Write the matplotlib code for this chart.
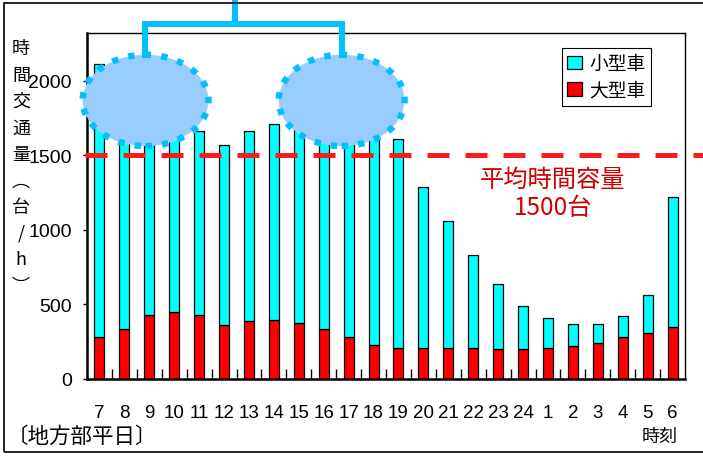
import numpy as np
import matplotlib
matplotlib.use("Agg")
import matplotlib.pyplot as plt
from matplotlib import font_manager
from matplotlib.patches import Ellipse, Rectangle

names = {f.name for f in font_manager.fontManager.ttflist}
num_font = 'Liberation Sans Narrow' if 'Liberation Sans Narrow' in names else 'Liberation Sans'
jp_font = 'Noto Sans CJK JP'
plt.rcParams['font.family'] = [num_font, jp_font, 'DejaVu Sans']

# data
hours = ['7', '8', '9', '10', '11', '12', '13', '14', '15', '16', '17', '18',
         '19', '20', '21', '22', '23', '24', '1', '2', '3', '4', '5', '6']
large_cars = [280, 337, 430, 447, 430, 360, 387, 398, 378, 337, 280, 230,
              210, 210, 210, 210, 199, 199, 210, 221, 242, 280, 307, 347]
small_cars = [1835, 1513, 1330, 1243, 1232, 1206, 1275, 1313, 1322, 1383, 1480, 1470,
              1401, 1079, 848, 622, 437, 289, 197, 146, 125, 141, 259, 870]
capacity = 1500

cyan = '#00ffff'
red = '#ff0000'
sky = '#00c0ff'

fig = plt.figure(figsize=(7.03, 4.6), dpi=100)
ax = fig.add_axes([87/703, 1-380/460, 598/703, 346/460])

ind = np.arange(len(hours))
w = 0.4
ax.bar(ind, large_cars, w, color=red, edgecolor='black', linewidth=0.9, label='大型車', zorder=2)
ax.bar(ind, small_cars, w, bottom=large_cars, color=cyan, edgecolor='black', linewidth=0.9,
       label='小型車', zorder=2)

ax.set_xlim(-0.5, len(hours)-0.5)
ax.set_ylim(0, 2320)
ax.set_yticks([0, 500, 1000, 1500, 2000])
ax.tick_params(axis='y', direction='out', length=3, width=1, labelsize=14, pad=8)
ax.set_xticks(ind)
ax.set_xticklabels(hours)
ax.tick_params(axis='x', which='major', length=0, labelsize=13.5, pad=18)
ax.set_xticks(np.arange(0.5, len(hours)-0.5, 1), minor=True)
ax.tick_params(axis='x', which='minor', direction='in', length=7, width=1)
for s in ['left', 'bottom']:
    ax.spines[s].set_linewidth(1.8)
for s in ['top', 'right']:
    ax.spines[s].set_linewidth(1.0)

# capacity line
ax.plot([-0.58, 26], [capacity, capacity], color='#ff1a1a', lw=3.6,
        linestyle=(0, (4.4, 3.2)), dash_capstyle='butt', clip_on=False, zorder=4)
ax.text(18.2, 1245, '平均時間容量\n1500台', color='#d00000', fontsize=17.5,
        ha='center', va='center', linespacing=1.1, family=[jp_font, 'DejaVu Sans'])

# legend
h, l = ax.get_legend_handles_labels()
leg = ax.legend(h[::-1], l[::-1], loc='upper right', bbox_to_anchor=(0.943, 0.958),
                prop={'family': [jp_font], 'size': 13.5},
                fancybox=False, edgecolor='black', framealpha=1,
                handlelength=0.75, handleheight=0.75, handletextpad=0.4,
                labelspacing=0.3, borderpad=0.3, borderaxespad=0)
leg.get_frame().set_linewidth(0.8)

# highlighted ellipses and bracket
for cx in [1.85, 9.72]:
    e = Ellipse((cx, 1868), 5.05, 612, facecolor='#99ccff', edgecolor=sky, lw=4.6,
                linestyle=(0, (1, 1.6)), clip_on=False, zorder=5)
    e.set_capstyle('butt')
    ax.add_patch(e)
ax.plot([1.83, 1.83, 9.74, 9.74], [2175, 2383, 2383, 2175], color=sky, lw=4.3,
        solid_joinstyle='miter', clip_on=False, zorder=5)
ax.plot([5.44, 5.44], [2383, 2600], color=sky, lw=4.3, clip_on=False, zorder=5)

# y label (vertical text)
ylab = '時\n間\n交\n通\n量\n︵\n台\n/\nh\n︶'
fig.text(21/703, 1-168/460, ylab, ha='center', va='center', fontsize=13,
         linespacing=1.6, family=[jp_font, 'DejaVu Sans'])

fig.text(7/703, 1-437/460, '〔地方部平日〕', ha='left', va='center', fontsize=15.5,
         family=[jp_font, 'DejaVu Sans'])
fig.text(660/703, 1-437/460, '時刻', ha='center', va='center', fontsize=13,
         family=[jp_font, 'DejaVu Sans'])

# outer frame
fig.patches.append(Rectangle((4/703, 1-453/460), 710/703, 449/460, transform=fig.transFigure,
                             fill=False, edgecolor='black', lw=1.2))

fig.savefig('out.png', dpi=100)
